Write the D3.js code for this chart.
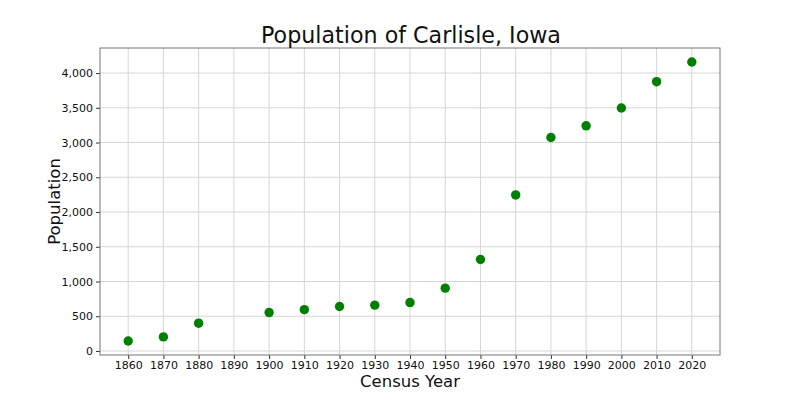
<!DOCTYPE html>
<html><head><meta charset="utf-8">
<script src="https://cdn.jsdelivr.net/npm/d3@7"></script>
<style>body{margin:0;background:#fff}svg{display:block}text{font-family:"DejaVu Sans",sans-serif}</style>
</head><body><svg id="c" width="800" height="400"></svg>
<script>
const years = [1860,1870,1880,1900,1910,1920,1930,1940,1950,1960,1970,1980,1990,2000,2010,2020];
const population = [143,203,400,553,595,640,660,697,904,1317,2246,3073,3241,3497,3876,4160];
const xTicks = [1860,1870,1880,1890,1900,1910,1920,1930,1940,1950,1960,1970,1980,1990,2000,2010,2020];
const yTicks = [0,500,1000,1500,2000,2500,3000,3500,4000];
const title = "Population of Carlisle, Iowa";
const xLabel = "Census Year", yLabel = "Population";

const svg = d3.select("#c");
const L=100,R=720,T=48,B=355;
const xmin=d3.min(years), xmax=d3.max(years), xr=xmax-xmin;
const ymin=d3.min(population), ymax=d3.max(population), yr=ymax-ymin;
const x=d3.scaleLinear().domain([xmin-0.05*xr,xmax+0.05*xr]).range([L,R]);
const y=d3.scaleLinear().domain([ymin-0.05*yr,ymax+0.05*yr]).range([B,T]);

const g=svg.append("g");
g.selectAll(".gx").data(xTicks).enter().append("line")
 .attr("x1",d=>x(d)).attr("x2",d=>x(d)).attr("y1",T).attr("y2",B)
 .attr("stroke","#d6d6d6").attr("stroke-width",1);
g.selectAll(".gy").data(yTicks).enter().append("line")
 .attr("y1",d=>y(d)).attr("y2",d=>y(d)).attr("x1",L).attr("x2",R)
 .attr("stroke","#d6d6d6").attr("stroke-width",1);

const xa=svg.append("g").attr("transform",`translate(0,${B})`)
 .call(d3.axisBottom(x).tickValues(xTicks).tickFormat(d3.format("d")).tickSizeOuter(0).tickSize(4).tickPadding(2));
const ya=svg.append("g").attr("transform",`translate(${L},0)`)
 .call(d3.axisLeft(y).tickValues(yTicks).tickFormat(d3.format(",")).tickSizeOuter(0).tickSize(4).tickPadding(3));
[xa,ya].forEach(a=>{a.select(".domain").remove();a.selectAll("line").attr("stroke","#333");
 a.selectAll("text").attr("font-family","DejaVu Sans").attr("font-size","11px").attr("fill","#111");});

svg.append("rect").attr("x",L).attr("y",T).attr("width",R-L).attr("height",B-T)
 .attr("fill","none").attr("stroke","#777").attr("stroke-width",1);

svg.selectAll(".dot").data(years).enter().append("circle")
 .attr("cx",d=>x(d)).attr("cy",(d,i)=>y(population[i])).attr("r",4.7).attr("fill","#008000");

svg.append("text").attr("x",(L+R)/2+1).attr("y",43).attr("text-anchor","middle")
 .attr("font-size","22.2px").attr("fill","#111").text(title);
svg.append("text").attr("x",(L+R)/2).attr("y",387).attr("text-anchor","middle")
 .attr("font-size","16.5px").attr("fill","#111").text(xLabel);
svg.append("text").attr("transform",`translate(60,${(T+B)/2}) rotate(-90)`).attr("text-anchor","middle")
 .attr("font-size","16.5px").attr("fill","#111").text(yLabel);
</script></body></html>
